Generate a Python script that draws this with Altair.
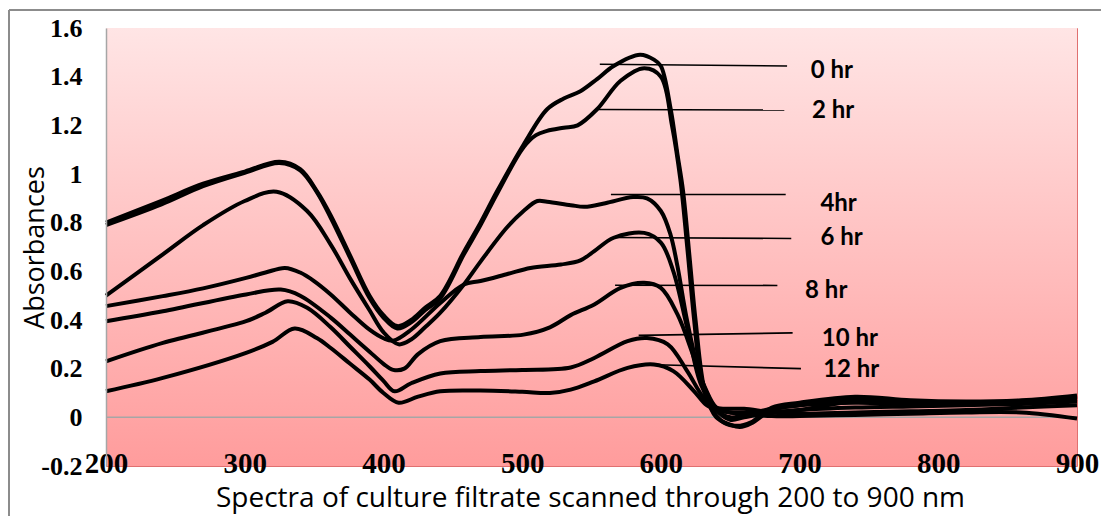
import altair as alt
import pandas as pd

series = ["0 hr", "2 hr", "4 hr", "6 hr", "8 hr", "10 hr", "12 hr"]

wl_0 = [200, 240, 270, 300, 325, 340, 352, 362, 376, 390, 400, 410, 420, 430, 441, 458, 470, 482, 501, 518,
        530, 542, 554, 566, 585, 595, 600, 607, 612, 616, 621, 625, 632, 640, 650, 657, 665, 680, 700, 740,
        780, 820, 860, 900]
ab_0 = [0.80, 0.89, 0.96, 1.01, 1.05, 1.02, 0.93, 0.83, 0.665, 0.50, 0.42, 0.375, 0.40, 0.45, 0.50, 0.68, 0.80, 0.93, 1.12, 1.266,
        1.31, 1.34, 1.39, 1.444, 1.49, 1.47, 1.444, 1.27, 1.08, 0.93, 0.64, 0.40, 0.10, 0.0, -0.03, -0.04, -0.025, 0.03, 0.05, 0.075,
        0.065, 0.06, 0.065, 0.085]

wl_2 = [200, 240, 270, 300, 325, 340, 352, 362, 376, 390, 400, 410, 420, 430, 441, 458, 470, 482, 501, 510,
        518, 530, 540, 554, 571, 588, 600, 608, 614, 619, 624, 629, 636, 645, 655, 665, 680, 700, 740, 780,
        820, 860, 900]
ab_2 = [0.79, 0.875, 0.95, 1.005, 1.045, 1.015, 0.925, 0.82, 0.655, 0.49, 0.41, 0.365, 0.39, 0.44, 0.49, 0.67, 0.79, 0.92, 1.11, 1.16,
        1.177, 1.19, 1.20, 1.266, 1.383, 1.435, 1.40, 1.20, 0.98, 0.70, 0.40, 0.16, 0.04, -0.02, -0.035, -0.02, 0.04, 0.06, 0.085, 0.07,
        0.065, 0.07, 0.09]

wl_4 = [200, 241, 270, 300, 323, 345, 362, 376, 390, 400, 411, 420, 430, 441, 458, 470, 489, 501, 511, 518,
        535, 545, 560, 580, 590, 600, 607, 612, 619, 629, 640, 650, 660, 680, 700, 740, 780, 820, 860, 900]
ab_4 = [0.50, 0.67, 0.79, 0.889, 0.927, 0.848, 0.71, 0.57, 0.44, 0.35, 0.30, 0.32, 0.37, 0.43, 0.546, 0.64, 0.78, 0.848, 0.889, 0.886,
        0.872, 0.865, 0.88, 0.905, 0.90, 0.848, 0.75, 0.62, 0.395, 0.16, 0.03, -0.01, 0.0, 0.02, 0.03, 0.065, 0.06, 0.055, 0.06, 0.075]

wl_6 = [200, 241, 270, 301, 315, 329, 340, 350, 362, 376, 390, 400, 407, 420, 441, 458, 470, 490, 506, 528,
        542, 552, 566, 588, 600, 609, 619, 629, 640, 650, 660, 680, 700, 740, 780, 820, 860, 900]
ab_6 = [0.457, 0.498, 0.53, 0.573, 0.595, 0.614, 0.595, 0.56, 0.505, 0.43, 0.36, 0.325, 0.315, 0.36, 0.47, 0.546, 0.56, 0.59, 0.614, 0.628,
        0.645, 0.683, 0.738, 0.758, 0.718, 0.60, 0.367, 0.134, 0.03, 0.0, 0.01, 0.035, 0.05, 0.06, 0.055, 0.055, 0.06, 0.07]

wl_8 = [200, 241, 301, 326, 340, 362, 376, 390, 400, 407, 415, 425, 441, 470, 501, 520, 535, 552, 571, 588,
        600, 612, 624, 632, 640, 650, 660, 680, 700, 740, 780, 820, 860, 900]
ab_8 = [0.395, 0.436, 0.505, 0.525, 0.50, 0.41, 0.34, 0.27, 0.22, 0.195, 0.20, 0.26, 0.313, 0.33, 0.34, 0.37, 0.42, 0.464, 0.532, 0.553,
        0.532, 0.423, 0.244, 0.12, 0.04, 0.02, 0.02, 0.02, 0.03, 0.04, 0.045, 0.05, 0.055, 0.065]

wl_10 = [200, 241, 301, 315, 331, 345, 362, 376, 390, 400, 408, 420, 441, 470, 500, 535, 552, 576, 590, 605,
         619, 631, 640, 650, 660, 680, 700, 740, 780, 820, 860, 900]
ab_10 = [0.23, 0.306, 0.395, 0.43, 0.477, 0.45, 0.37, 0.29, 0.21, 0.15, 0.107, 0.14, 0.18, 0.19, 0.195, 0.205, 0.244, 0.313, 0.326, 0.30,
         0.19, 0.08, 0.04, 0.035, 0.035, 0.02, 0.015, 0.02, 0.025, 0.03, 0.04, 0.05]

wl_12 = [200, 241, 301, 320, 336, 352, 362, 376, 390, 400, 411, 425, 441, 470, 500, 520, 535, 552, 576, 595,
         609, 624, 633, 642, 650, 660, 680, 700, 740, 780, 820, 860, 900]
ab_12 = [0.107, 0.162, 0.265, 0.31, 0.365, 0.326, 0.285, 0.22, 0.155, 0.10, 0.06, 0.085, 0.107, 0.11, 0.105, 0.10, 0.114, 0.148, 0.203, 0.217,
         0.19, 0.107, 0.05, 0.03, 0.02, 0.015, 0.005, 0.005, 0.01, 0.015, 0.02, 0.02, -0.005]

# annotation labels and leader lines
label_text = ["0 hr", "2 hr", "4hr", "6 hr", "8 hr", "10 hr", "12 hr"]
leader_x1 = [556, 555, 564, 567, 567, 584, 590]
leader_x2 = [691, 689, 690, 694, 684, 695, 701]
leader_y1 = [1.451, 1.265, 0.916, 0.739, 0.543, 0.337, 0.217]
leader_y2 = [1.444, 1.263, 0.916, 0.735, 0.542, 0.347, 0.200]
label_x = [708, 709, 715, 715, 704, 716, 717]
label_y = [1.424, 1.259, 0.875, 0.738, 0.519, 0.322, 0.193]

x_ticks = [200, 300, 400, 500, 600, 700, 800, 900]
y_ticks = [-0.2, 0, 0.2, 0.4, 0.6, 0.8, 1, 1.2, 1.4, 1.6]
x_domain = [200, 900]
y_domain = [-0.2, 1.6]

rows = []
for name, wl, ab in zip(series,
                        [wl_0, wl_2, wl_4, wl_6, wl_8, wl_10, wl_12],
                        [ab_0, ab_2, ab_4, ab_6, ab_8, ab_10, ab_12]):
    for w, a in zip(wl, ab):
        rows.append({"series": name, "nm": w, "absorb": a})
df = pd.DataFrame(rows)

ann = pd.DataFrame({"text": label_text, "x1": leader_x1, "x2": leader_x2,
                    "y1": leader_y1, "y2": leader_y2, "lx": label_x, "ly": label_y})

bgdf = pd.DataFrame({"x": [x_domain[0]], "x2": [x_domain[1]], "y": [y_domain[0]], "y2": [y_domain[1]]})
zerodf = pd.DataFrame({"x": [x_domain[0]], "x2": [x_domain[1]], "y": [0]})
dummy = pd.DataFrame({"a": [0]})

xs = alt.Scale(domain=x_domain, nice=False, zero=False)
ys = alt.Scale(domain=y_domain, nice=False, zero=False)

x_axis = alt.Axis(values=x_ticks, format="d", labelFont="Liberation Serif", labelFontWeight="bold",
                  labelFontSize=29, labelColor="black", labelPadding=6, labelBaseline="alphabetic",
                  labelFlush=False, labelOverlap=False, labelBound=False, ticks=False, tickSize=0,
                  domain=False, grid=False, zindex=1,
                  title="Spectra of culture filtrate scanned through 200 to 900 nm",
                  titleFont="Open Sans", titleFontSize=28, titleFontWeight="normal", titleColor="black",
                  titleX=484, titleY=40, titleAlign="center", titleBaseline="alphabetic")

y_axis = alt.Axis(values=y_ticks, labelExpr="replace(format(datum.value, '.1~f'), '\u2212', '-')",
                  labelFont="Liberation Serif", labelFontWeight="bold", labelFontSize=26,
                  labelColor="black", labelPadding=24, ticks=False, tickSize=0,
                  domain=True, domainColor="#a6a6a6", domainWidth=1.5, grid=False, zindex=1,
                  labelOverlap=False, labelBound=False, labelFlush=False,
                  title="Absorbances", titleFont="Open Sans", titleFontSize=27, titleFontWeight="normal",
                  titleColor="black", titleAngle=270, titleX=-63, titleY=219,
                  titleAlign="center", titleBaseline="alphabetic")

gradient = alt.Gradient(gradient="linear",
                        stops=[alt.GradientStop(color="#FFE5E5", offset=0),
                               alt.GradientStop(color="#FF9C9C", offset=1)],
                        x1=0, x2=0, y1=0, y2=1)

bg = alt.Chart(bgdf).mark_rect(color=gradient).encode(
    x=alt.X("x:Q", scale=xs, axis=x_axis), x2="x2:Q",
    y=alt.Y("y:Q", scale=ys, axis=y_axis), y2="y2:Q")

zero = alt.Chart(zerodf).mark_rule(color="#a6a6a6", strokeWidth=1.5).encode(
    x=alt.X("x:Q", scale=xs, axis=x_axis), x2="x2:Q",
    y=alt.Y("y:Q", scale=ys, axis=y_axis))

lines = alt.Chart(df).mark_line(color="black", strokeWidth=4, interpolate="catmull-rom").encode(
    x=alt.X("nm:Q", scale=xs, axis=x_axis),
    y=alt.Y("absorb:Q", scale=ys, axis=y_axis),
    detail="series:N")

leaders = alt.Chart(ann).mark_rule(color="black", strokeWidth=1.6).encode(
    x=alt.X("x1:Q", scale=xs, axis=x_axis), x2="x2:Q",
    y=alt.Y("y1:Q", scale=ys, axis=y_axis), y2="y2:Q")

labels = alt.Chart(ann).mark_text(align="left", baseline="middle", font="Lato", fontWeight="bold",
                                  fontSize=24, color="black").encode(
    x=alt.X("lx:Q", scale=xs, axis=x_axis),
    y=alt.Y("ly:Q", scale=ys, axis=y_axis),
    text="text:N")

border_left = alt.Chart(dummy).mark_rule(color="#8c8c8c", strokeWidth=2).encode(
    x=alt.value(-97), y=alt.value(-18), y2=alt.value(520))
border_top = alt.Chart(dummy).mark_rule(color="#8c8c8c", strokeWidth=2).encode(
    x=alt.value(-97), x2=alt.value(1003), y=alt.value(-18))

chart = alt.layer(bg, zero, lines, leaders, labels, border_left, border_top).properties(
    width=971, height=438,
    autosize=alt.AutoSizeParams(type="none"),
    padding={"left": 98, "top": 20, "right": 24, "bottom": 50},
    background="white",
).configure_view(stroke="#e07070", strokeWidth=1)

chart.save("out.html", embed_options={"renderer": "svg", "actions": False})
